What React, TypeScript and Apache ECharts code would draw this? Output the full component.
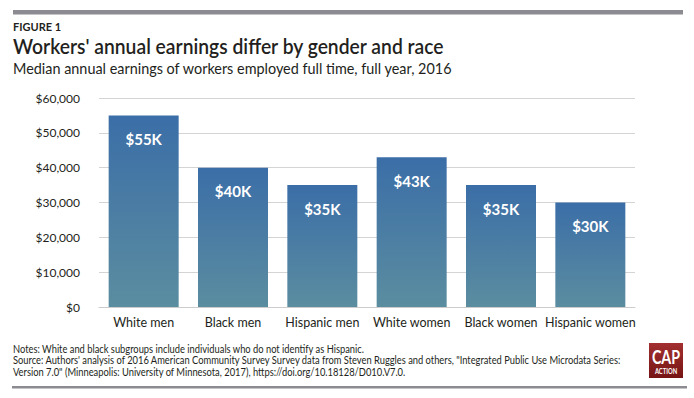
import React, { useEffect, useRef } from "react";
import * as echarts from "echarts";

const categories = ["White men", "Black men", "Hispanic men", "White women", "Black women", "Hispanic women"];
const earnings = [55000, 40000, 35000, 43000, 35000, 30000];
const barLabels = ["$55K", "$40K", "$35K", "$43K", "$35K", "$30K"];
const yTicks = { min: 0, max: 60000, interval: 10000 };

const figureLabel = "FIGURE 1";
const titleText = "Workers' annual earnings differ by gender and race";
const subtitleText = "Median annual earnings of workers employed full time, full year, 2016";
const notesLines = [
  "Notes: White and black subgroups include individuals who do not identify as Hispanic.",
  "Source: Authors' analysis of 2016 American Community Survey Survey data from Steven Ruggles and others, \"Integrated Public Use Microdata Series:",
  "Version 7.0\" (Minneapolis: University of Minnesota, 2017), https://doi.org/10.18128/D010.V7.0.",
];

const FONT = "Lato, 'Open Sans', sans-serif";
const TEXT = "#231f20";

export default function App() {
  const ref = useRef<HTMLDivElement>(null);
  useEffect(() => {
    if (!ref.current) return;
    const chart = echarts.init(ref.current, null, { renderer: "svg" });
    chart.setOption({
      animation: false,
      backgroundColor: "#ffffff",
      grid: { left: 99, right: 59, top: 98, bottom: 91, containLabel: false },
      xAxis: {
        type: "category",
        data: categories,
        axisLine: { lineStyle: { color: "#cccccc", width: 1 } },
        axisTick: { show: false },
        axisLabel: { color: TEXT, fontFamily: FONT, fontSize: 12.5, margin: 9, interval: 0 },
      },
      yAxis: {
        type: "value",
        min: yTicks.min,
        max: yTicks.max,
        interval: yTicks.interval,
        axisLine: { show: false },
        axisTick: { show: false },
        splitLine: { lineStyle: { color: "#d4d4d4", width: 1 } },
        axisLabel: {
          color: TEXT,
          fontFamily: FONT,
          fontSize: 12,
          margin: 19,
          formatter: (v: number) => "$" + v.toLocaleString("en-US"),
        },
      },
      series: [
        {
          type: "bar",
          data: earnings,
          barWidth: 70,
          itemStyle: {
            color: new echarts.graphic.LinearGradient(0, 0, 0, 1, [
              { offset: 0, color: "#3b6ea7" },
              { offset: 1, color: "#5b8da0" },
            ]),
          },
          label: {
            show: true,
            position: "insideTop",
            distance: 16,
            color: "#ffffff",
            fontFamily: FONT,
            fontWeight: "bold",
            fontSize: 15,
            formatter: (p: any) => barLabels[p.dataIndex],
          },
        },
      ],
      graphic: [
        { type: "rect", shape: { x: 13, y: 10, width: 670, height: 4.5 }, style: { fill: "#8b8b91" } },
        { type: "text", x: 13, y: 21, style: { text: figureLabel, fontFamily: FONT, fontWeight: "bold", fontSize: 11, fill: TEXT } },
        { type: "text", x: 13, y: 35, scaleX: 0.92, style: { text: titleText, fontFamily: FONT, fontWeight: 600, fontSize: 21, fill: TEXT } },
        { type: "text", x: 13, y: 60, scaleX: 0.93, style: { text: subtitleText, fontFamily: FONT, fontSize: 15.5, fill: TEXT } },
        {
          type: "text",
          x: 13,
          y: 343,
          scaleX: 0.89,
          style: { text: notesLines.join("\n"), fontFamily: FONT, fontSize: 10.5, lineHeight: 11.5, fill: TEXT },
        },
        {
          type: "rect",
          shape: { x: 649, y: 343, width: 34, height: 35 },
          style: {
            fill: new echarts.graphic.LinearGradient(0, 0, 0, 1, [
              { offset: 0, color: "#a33030" },
              { offset: 1, color: "#761414" },
            ]),
          },
        },
        {
          type: "text",
          x: 666,
          y: 357,
          scaleX: 0.75,
          style: { text: "CAP", fontFamily: FONT, fontWeight: "bold", fontSize: 19, fill: "#ffffff", align: "center", verticalAlign: "middle" },
        },
        {
          type: "text",
          x: 666,
          y: 371.5,
          scaleX: 0.9,
          style: { text: "ACTION", fontFamily: FONT, fontWeight: "bold", fontSize: 6.5, fill: "#ffffff", align: "center", verticalAlign: "middle" },
        },
        { type: "rect", shape: { x: 12, y: 386, width: 675, height: 2.5 }, style: { fill: "#8b8b91" } },
      ],
    });
    return () => chart.dispose();
  }, []);
  return <div ref={ref} style={{ position: "fixed", left: 0, top: 0, width: 694, height: 398 }} />;
}
